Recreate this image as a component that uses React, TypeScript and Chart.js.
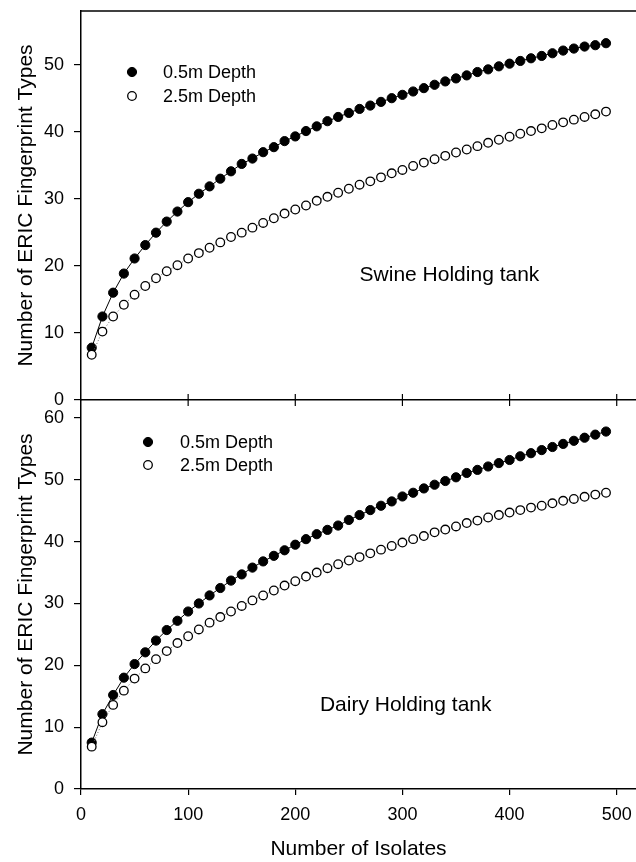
import React, { useEffect, useRef } from "react";
import { Chart, registerables } from "chart.js";

Chart.register(...registerables);

// ---------- data ----------
const isolates = [
  10, 20, 30, 40, 50, 60, 70, 80, 90, 100, 110, 120, 130, 140, 150, 160, 170, 180, 190, 200,
  210, 220, 230, 240, 250, 260, 270, 280, 290, 300, 310, 320, 330, 340, 350, 360, 370, 380, 390, 400,
  410, 420, 430, 440, 450, 460, 470, 480, 490,
];
const seriesLabels = ["0.5m Depth", "2.5m Depth"];

const swineShallow = [
  7.8, 12.45, 16.0, 18.85, 21.1, 23.1, 24.95, 26.6, 28.1, 29.5,
  30.75, 31.85, 33.0, 34.1, 35.2, 36.0, 36.95, 37.7, 38.6, 39.3,
  40.1, 40.8, 41.57, 42.2, 42.8, 43.4, 43.9, 44.45, 45.0, 45.5,
  46.0, 46.5, 47.0, 47.5, 47.95, 48.4, 48.9, 49.3, 49.75, 50.15,
  50.55, 50.95, 51.3, 51.7, 52.1, 52.4, 52.7, 52.9, 53.2,
];
const swineDeep = [
  6.75, 10.2, 12.45, 14.2, 15.7, 17.0, 18.15, 19.2, 20.1, 21.1,
  21.9, 22.7, 23.5, 24.3, 24.95, 25.7, 26.4, 27.1, 27.8, 28.4,
  29.0, 29.7, 30.3, 30.9, 31.5, 32.1, 32.6, 33.2, 33.8, 34.3,
  34.9, 35.4, 35.9, 36.4, 36.9, 37.35, 37.85, 38.35, 38.8, 39.25,
  39.7, 40.1, 40.5, 41.0, 41.4, 41.8, 42.2, 42.6, 43.0,
];
const dairyShallow = [
  7.5, 12.1, 15.2, 18.0, 20.2, 22.1, 24.0, 25.7, 27.2, 28.7,
  30.0, 31.3, 32.5, 33.7, 34.7, 35.8, 36.8, 37.7, 38.6, 39.5,
  40.4, 41.2, 41.9, 42.6, 43.5, 44.3, 45.1, 45.8, 46.5, 47.3,
  47.9, 48.6, 49.2, 49.8, 50.4, 51.1, 51.6, 52.15, 52.7, 53.2,
  53.8, 54.3, 54.8, 55.3, 55.8, 56.3, 56.8, 57.3, 57.8,
];
const dairyDeep = [
  6.85, 10.8, 13.6, 15.9, 17.85, 19.5, 21.0, 22.3, 23.6, 24.7,
  25.8, 26.9, 27.8, 28.7, 29.6, 30.5, 31.3, 32.1, 32.9, 33.6,
  34.35, 35.0, 35.7, 36.35, 36.95, 37.5, 38.1, 38.7, 39.3, 39.85,
  40.4, 40.9, 41.5, 41.95, 42.45, 43.0, 43.4, 43.9, 44.3, 44.7,
  45.1, 45.5, 45.8, 46.2, 46.6, 46.9, 47.25, 47.6, 47.9,
];

const xTickValues = [0, 100, 200, 300, 400, 500];
const swineYTicks = [0, 10, 20, 30, 40, 50];
const dairyYTicks = [0, 10, 20, 30, 40, 50, 60];
const panelNames = ["Swine Holding tank", "Dairy Holding tank"];
const xTitle = "Number of Isolates";
const yTitle = "Number of ERIC Fingerprint Types";

// ---------- styling ----------
const FONT = '"Liberation Sans", Arial, Helvetica, sans-serif';
const TICK_FONT = { family: FONT, size: 18 };
const TITLE_FONT = { family: FONT, size: 21 };
const LEGEND_FONT = `18px ${FONT}`;
const LABEL_FONT = `21px ${FONT}`;

const decorPlugin = {
  id: "panelDecor",
  afterDatasetsDraw(chart: any, _args: any, opts: any) {
    const ctx = chart.ctx;
    const area = chart.chartArea;
    const xs = chart.scales.x;
    const ys = chart.scales.y;
    ctx.save();
    ctx.strokeStyle = "#000";
    ctx.fillStyle = "#000";
    if (opts.topBorder) {
      ctx.lineWidth = 1.5;
      ctx.beginPath();
      ctx.moveTo(area.left, area.top);
      ctx.lineTo(chart.width, area.top);
      ctx.stroke();
    }
    if (opts.crossTicks) {
      ctx.lineWidth = 1.2;
      xs.ticks.forEach((t: any) => {
        if (t.value === 0) return;
        const px = xs.getPixelForValue(t.value);
        ctx.beginPath();
        ctx.moveTo(px, area.bottom - 6);
        ctx.lineTo(px, area.bottom + 6);
        ctx.stroke();
      });
    }
    // legend inside plot
    const lg = opts.legend;
    if (lg) {
      chart.data.datasets.forEach((ds: any, i: number) => {
        const cx = area.left + lg.dx;
        const cy = area.top + lg.dy + i * lg.gap;
        ctx.beginPath();
        ctx.arc(cx, cy, ds.pointRadius, 0, Math.PI * 2);
        ctx.fillStyle = ds.pointBackgroundColor;
        ctx.fill();
        ctx.lineWidth = ds.pointBorderWidth;
        ctx.strokeStyle = "#000";
        ctx.stroke();
        ctx.fillStyle = "#000";
        ctx.font = LEGEND_FONT;
        ctx.textAlign = "left";
        ctx.textBaseline = "middle";
        ctx.fillText(ds.label, area.left + lg.textDx, cy + 1);
      });
    }
    const lb = opts.label;
    if (lb) {
      ctx.fillStyle = "#000";
      ctx.font = LABEL_FONT;
      ctx.textAlign = "left";
      ctx.textBaseline = "middle";
      ctx.fillText(lb.text, xs.getPixelForValue(lb.x), ys.getPixelForValue(lb.y));
    }
    ctx.restore();
  },
};

type Panel = {
  top: number;
  height: number;
  padTop: number;
  xAxisHeight: number;
  yMax: number;
  yTicks: number[];
  shallow: number[];
  deep: number[];
  showXLabels: boolean;
  crossTicks: boolean;
  topBorder: boolean;
  label: { text: string; x: number; y: number };
  legend: { dx: number; dy: number; gap: number; textDx: number };
};

const panels: Panel[] = [
  {
    top: 0,
    height: 416,
    padTop: 11,
    xAxisHeight: 16,
    yMax: 58,
    yTicks: swineYTicks,
    shallow: swineShallow,
    deep: swineDeep,
    showXLabels: false,
    crossTicks: true,
    topBorder: true,
    label: { text: panelNames[0], x: 260, y: 18.6 },
    legend: { dx: 51, dy: 61, gap: 24, textDx: 82 },
  },
  {
    top: 388,
    height: 474,
    padTop: 12,
    xAxisHeight: 73,
    yMax: 62.9,
    yTicks: dairyYTicks,
    shallow: dairyShallow,
    deep: dairyDeep,
    showXLabels: true,
    crossTicks: false,
    topBorder: false,
    label: { text: panelNames[1], x: 223, y: 13.6 },
    legend: { dx: 67, dy: 42, gap: 23, textDx: 99 },
  },
];

function buildConfig(p: Panel): any {
  return {
    type: "line",
    data: {
      datasets: [
        {
          label: seriesLabels[0],
          data: isolates.map((x, i) => ({ x, y: p.shallow[i] })),
          borderColor: "#000",
          borderWidth: 1,
          pointRadius: 4.6,
          pointBorderWidth: 1,
          pointBackgroundColor: "#000",
          pointBorderColor: "#000",
          order: 1,
          tension: 0,
        },
        {
          label: seriesLabels[1],
          data: isolates.map((x, i) => ({ x, y: p.deep[i] })),
          borderColor: "#666",
          borderWidth: 1,
          borderDash: [1, 2],
          pointRadius: 4.3,
          pointBorderWidth: 1.3,
          pointBackgroundColor: "#fff",
          pointBorderColor: "#000",
          order: 0,
          tension: 0,
        },
      ],
    },
    options: {
      responsive: false,
      animation: false,
      layout: { autoPadding: false, padding: { top: p.padTop, right: 0, left: 0, bottom: 0 } },
      plugins: {
        legend: { display: false },
        tooltip: { enabled: false },
        panelDecor: {
          topBorder: p.topBorder,
          crossTicks: p.crossTicks,
          legend: p.legend,
          label: p.label,
        },
      },
      scales: {
        x: {
          type: "linear",
          min: 0,
          max: 518,
          afterBuildTicks: (s: any) => {
            s.ticks = xTickValues.map((v) => ({ value: v }));
          },
          afterFit: (s: any) => {
            s.height = p.xAxisHeight;
            s.paddingLeft = 0;
            s.paddingRight = 0;
          },
          ticks: {
            display: p.showXLabels,
            font: TICK_FONT,
            color: "#000",
            padding: 9,
            maxRotation: 0,
            autoSkip: false,
          },
          grid: {
            display: p.showXLabels,
            drawOnChartArea: false,
            tickLength: 6,
            color: "#000",
            lineWidth: 1.2,
          },
          border: { display: true, color: "#000", width: 1.5 },
          title: {
            display: p.showXLabels,
            text: xTitle,
            font: TITLE_FONT,
            color: "#000",
            padding: { top: 0, bottom: 0 },
          },
        },
        y: {
          type: "linear",
          min: 0,
          max: p.yMax,
          afterBuildTicks: (s: any) => {
            s.ticks = p.yTicks.map((v) => ({ value: v }));
          },
          afterFit: (s: any) => {
            s.width = 81;
            s.paddingTop = 0;
            s.paddingBottom = 0;
          },
          ticks: { font: TICK_FONT, color: "#000", padding: 10 },
          grid: {
            drawOnChartArea: false,
            tickLength: 7,
            color: "#000",
            lineWidth: 1.2,
          },
          border: { display: true, color: "#000", width: 1.5 },
          title: {
            display: true,
            text: yTitle,
            font: TITLE_FONT,
            color: "#000",
            padding: { top: 14, bottom: 0 },
          },
        },
      },
    },
    plugins: [decorPlugin],
  };
}

function PanelChart({ p }: { p: Panel }) {
  const ref = useRef<HTMLCanvasElement | null>(null);
  useEffect(() => {
    if (!ref.current) return;
    const chart = new Chart(ref.current, buildConfig(p));
    return () => chart.destroy();
  }, [p]);
  return (
    <canvas
      ref={ref}
      width={636}
      height={p.height}
      style={{ position: "absolute", left: 0, top: p.top, width: 636, height: p.height }}
    />
  );
}

export default function App() {
  return (
    <div
      style={{
        position: "absolute",
        left: 0,
        top: 0,
        width: 636,
        height: 862,
        background: "#fff",
        overflow: "hidden",
      }}
    >
      {panels.map((p, i) => (
        <PanelChart key={i} p={p} />
      ))}
    </div>
  );
}
